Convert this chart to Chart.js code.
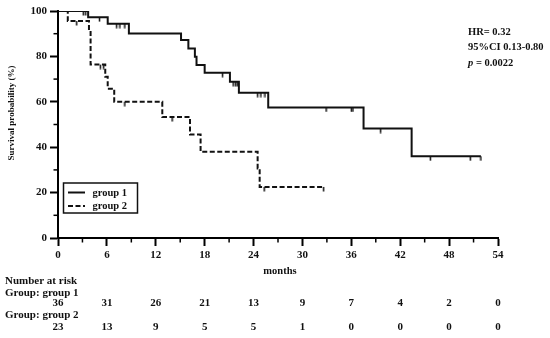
<!DOCTYPE html>
<html>
<head>
<meta charset="utf-8">
<script src="https://cdn.jsdelivr.net/npm/chart.js@4.4.1/dist/chart.umd.min.js"></script>
<style>
html,body{margin:0;padding:0;background:#fff;}
#wrap{width:550px;height:338px;position:relative;}
</style>
</head>
<body>
<div id="wrap"><canvas id="c" width="550" height="338"></canvas></div>
<script>
// ---- data ----
const xTicks = [0, 6, 12, 18, 24, 30, 36, 42, 48, 54];
const yTicks = [0, 20, 40, 60, 80, 100];

const g1Times = [0, 3.7, 6.1, 8.7, 15.1, 16.0, 16.8, 17.0, 18.0, 21.1, 22.2, 25.8, 37.5, 43.4, 51.9];
const g1Surv  = [100, 97.3, 94.4, 90.1, 87.2, 83.5, 79.8, 76.2, 72.8, 68.8, 64.0, 57.5, 48.2, 36.0, 36.0];
const g1CensT = [3.1, 3.4, 5.1, 7.2, 7.6, 8.2, 20.2, 21.5, 21.8, 22.0, 24.5, 24.9, 25.4, 32.9, 36.0, 36.2, 39.6, 45.7, 50.6, 51.9];
const g1CensS = [100, 100, 97.3, 94.4, 94.4, 94.4, 72.8, 68.8, 68.8, 68.8, 64.0, 64.0, 64.0, 57.5, 57.5, 57.5, 48.2, 36.0, 36.0, 36.0];

const g2Times = [0, 1.2, 3.8, 4.0, 5.8, 6.1, 6.9, 12.8, 16.2, 17.5, 24.5, 24.75, 32.6];
const g2Surv  = [100, 95.6, 91.3, 76.4, 71.0, 65.8, 60.0, 53.3, 45.6, 38.0, 30.6, 22.5, 22.5];
const g2CensT = [2.3, 5.2, 5.6, 8.2, 14.0, 25.3, 32.6];
const g2CensS = [95.6, 76.4, 76.4, 60.0, 53.3, 22.5, 22.5];

const riskTimes = [0, 6, 12, 18, 24, 30, 36, 42, 48, 54];
const risk1 = [36, 31, 26, 21, 13, 9, 7, 4, 2, 0];
const risk2 = [23, 13, 9, 5, 5, 1, 0, 0, 0, 0];

const seriesNames = ['group 1', 'group 2'];
const statsLines = ['HR= 0.32', '95%CI 0.13-0.80', '= 0.0022'];

// ---- helpers ----
const FONT = '"Liberation Serif", "Times New Roman", serif';
function pts(xs, ys){ return xs.map((x,i)=>({x:x, y:ys[i]})); }

// censor mark: short vertical line hanging below the curve
const cens = document.createElement('canvas');
cens.width = 3; cens.height = 10;
(function(){ const c = cens.getContext('2d'); c.fillStyle = '#111'; c.fillRect(0.75, 5, 1.5, 4.5); })();

const extras = {
  id: 'extras',
  afterDraw(chart){
    const ctx = chart.ctx;
    const xs = chart.scales.x, ys = chart.scales.y;
    const area = chart.chartArea;
    ctx.save();
    // minor ticks
    ctx.strokeStyle = '#000'; ctx.lineWidth = 1.5;
    for (let v = 3; v < 54; v += 6){
      const px = xs.getPixelForValue(v);
      ctx.beginPath(); ctx.moveTo(px, area.bottom); ctx.lineTo(px, area.bottom + 4.5); ctx.stroke();
    }
    for (let v = 10; v < 100; v += 20){
      const py = ys.getPixelForValue(v);
      ctx.beginPath(); ctx.moveTo(area.left, py); ctx.lineTo(area.left - 4.5, py); ctx.stroke();
    }
    // y title
    ctx.fillStyle = '#111';
    ctx.font = 'bold 9px ' + FONT;
    ctx.textAlign = 'center'; ctx.textBaseline = 'middle';
    ctx.save();
    ctx.translate(11.5, 113);
    ctx.rotate(-Math.PI/2);
    ctx.fillText('Survival probability (%)', 0, 0);
    ctx.restore();
    // x title
    ctx.font = 'bold 10.5px ' + FONT;
    ctx.fillText('months', 280, 271);
    // legend
    ctx.lineWidth = 1.5; ctx.strokeStyle = '#111';
    ctx.strokeRect(63.5, 183, 74, 30);
    ctx.lineWidth = 2;
    ctx.beginPath(); ctx.moveTo(68, 192.5); ctx.lineTo(85, 192.5); ctx.stroke();
    ctx.setLineDash([5, 2.5]);
    ctx.beginPath(); ctx.moveTo(68, 206); ctx.lineTo(85, 206); ctx.stroke();
    ctx.setLineDash([]);
    ctx.textAlign = 'left';
    ctx.font = 'bold 10.5px ' + FONT;
    ctx.fillText(seriesNames[0], 92.5, 193);
    ctx.fillText(seriesNames[1], 92.5, 206.5);
    // stats
    ctx.fillText(statsLines[0], 468, 32);
    ctx.fillText(statsLines[1], 468, 47);
    ctx.font = 'italic bold 10.5px ' + FONT;
    ctx.fillText('p', 468, 63.5);
    const pw = ctx.measureText('p ').width;
    ctx.font = 'bold 10.5px ' + FONT;
    ctx.fillText(statsLines[2], 468 + pw, 63.5);
    // risk table
    ctx.font = 'bold 11px ' + FONT;
    ctx.fillText('Number at risk', 5, 281);
    ctx.fillText('Group: ' + seriesNames[0], 5, 293.5);
    ctx.fillText('Group: ' + seriesNames[1], 5, 315.5);
    ctx.textAlign = 'center';
    riskTimes.forEach((t, i) => {
      const px = xs.getPixelForValue(t);
      ctx.fillText(String(risk1[i]), px, 303.5);
      ctx.fillText(String(risk2[i]), px, 327.5);
    });
    ctx.restore();
  }
};

const tickFont = {family: FONT, size: 11, weight: 'bold'};

new Chart(document.getElementById('c'), {
  type: 'line',
  data: {
    datasets: [
      {label: seriesNames[0], data: pts(g1Times, g1Surv), stepped: 'before', borderColor: '#111', borderWidth: 2, pointRadius: 0, fill: false},
      {label: seriesNames[1], data: pts(g2Times, g2Surv), stepped: 'before', borderColor: '#111', borderWidth: 2, borderDash: [5, 2.5], pointRadius: 0, fill: false},
      {label: 'c1', data: pts(g1CensT, g1CensS), showLine: false, pointStyle: cens, pointRadius: 5},
      {label: 'c2', data: pts(g2CensT, g2CensS), showLine: false, pointStyle: cens, pointRadius: 5}
    ]
  },
  options: {
    responsive: false,
    animation: false,
    events: [],
    layout: {padding: {top: 11, right: 52, left: 0, bottom: 0}},
    plugins: {legend: {display: false}, tooltip: {enabled: false}},
    scales: {
      x: {
        type: 'linear', min: 0, max: 54,
        afterBuildTicks: s => { s.ticks = xTicks.map(v => ({value: v})); },
        afterFit: s => { s.height = 100; },
        grid: {drawOnChartArea: false, drawTicks: true, tickLength: 8, tickWidth: 2, tickColor: '#000'},
        border: {display: true, color: '#000', width: 2},
        ticks: {font: tickFont, color: '#111', padding: 3, maxRotation: 0, autoSkip: false}
      },
      y: {
        type: 'linear', min: 0, max: 100,
        afterBuildTicks: s => { s.ticks = yTicks.map(v => ({value: v})); },
        afterFit: s => { s.width = 58; },
        grid: {drawOnChartArea: false, drawTicks: true, tickLength: 8, tickWidth: 2, tickColor: '#000'},
        border: {display: true, color: '#000', width: 2},
        ticks: {font: tickFont, color: '#111', padding: 3}
      }
    }
  },
  plugins: [extras]
});
</script>
</body>
</html>
